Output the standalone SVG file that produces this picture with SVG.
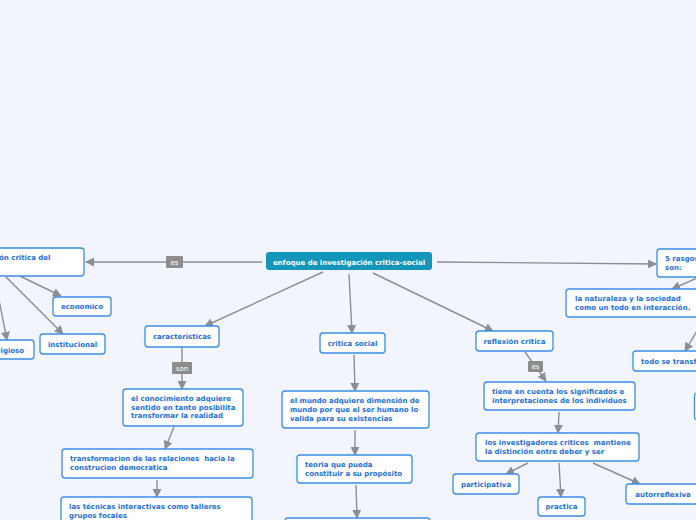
<svg xmlns="http://www.w3.org/2000/svg" width="696" height="520" viewBox="0 0 696 520">
<defs>
<marker id="ah" viewBox="0 0 10 10" refX="9" refY="5" markerWidth="9" markerHeight="9" markerUnits="userSpaceOnUse" orient="auto">
<path d="M0,0 L10,5 L0,10 z" fill="#8a8e96"/>
</marker>
<style>
.n rect{fill:#ffffff;stroke:#3b8de3;stroke-width:1.3}
.n text,.t{font-family:"DejaVu Sans",Verdana,sans-serif;font-weight:bold;font-size:7px;fill:#1e6fd4;white-space:pre}
.c{text-anchor:middle}
.e line,.e path{stroke:#8a8e96;stroke-width:1.4;fill:none}
.lb rect{fill:#8c8c8c}
.lb text{font-family:"DejaVu Sans",Verdana,sans-serif;font-size:7px;fill:#ffffff;text-anchor:middle}
</style>
</defs>
<rect width="696" height="520" fill="#f2f5fd"/>
<g id="connectors" class="e">
<line x1="262" y1="262" x2="86" y2="262" marker-end="url(#ah)"/>
<line x1="20" y1="276" x2="61" y2="296" marker-end="url(#ah)"/>
<line x1="6" y1="277" x2="63" y2="334" marker-end="url(#ah)"/>
<line x1="-3" y1="290" x2="7" y2="340" marker-end="url(#ah)"/>
<line x1="323" y1="272" x2="205" y2="326" marker-end="url(#ah)"/>
<line x1="182" y1="347" x2="182" y2="389" marker-end="url(#ah)"/>
<line x1="174" y1="427" x2="165" y2="449" marker-end="url(#ah)"/>
<line x1="157" y1="480" x2="157" y2="497" marker-end="url(#ah)"/>
<line x1="349" y1="274" x2="352" y2="333" marker-end="url(#ah)"/>
<line x1="354" y1="355" x2="355" y2="391" marker-end="url(#ah)"/>
<line x1="355" y1="430" x2="355" y2="455" marker-end="url(#ah)"/>
<line x1="356" y1="485" x2="357" y2="518" marker-end="url(#ah)"/>
<line x1="373" y1="273" x2="493" y2="331" marker-end="url(#ah)"/>
<line x1="525" y1="352" x2="546" y2="381" marker-end="url(#ah)"/>
<line x1="559" y1="412" x2="558" y2="433" marker-end="url(#ah)"/>
<line x1="528" y1="463" x2="506" y2="474" marker-end="url(#ah)"/>
<line x1="559" y1="463" x2="561" y2="497" marker-end="url(#ah)"/>
<line x1="593" y1="463" x2="640" y2="484" marker-end="url(#ah)"/>
<line x1="437" y1="262" x2="656" y2="264" marker-end="url(#ah)"/>
<line x1="697" y1="278" x2="672" y2="289" marker-end="url(#ah)"/>
<line x1="697" y1="331" x2="685" y2="351" marker-end="url(#ah)"/>
</g>
<g id="labels" class="lb">
<rect x="166" y="256" width="17" height="12" rx="1"/><text x="174.5" y="264.5">es</text>
<rect x="172" y="362" width="20" height="12" rx="1"/><text x="182" y="370.5">son</text>
<rect x="528" y="361" width="15" height="11" rx="1"/><text x="535.5" y="369">es</text>
</g>
<g id="central">
<rect x="266" y="252" width="166" height="18" rx="3" fill="#1396b9"/>
<text x="349" y="264.5" class="t c" style="fill:#ffffff">enfoque de investigación critica-social</text>
</g>
<g id="n-left" class="n"><rect x="-10" y="248" width="94" height="28" rx="3"/><text x="-1" y="259.5">ón critica del</text></g>
<g id="n-economico" class="n"><rect x="53" y="297" width="58" height="19" rx="3"/><text x="82" y="309" class="c">economico</text></g>
<g id="n-institucional" class="n"><rect x="40" y="334" width="65" height="20" rx="3"/><text x="72.5" y="346.5" class="c">institucional</text></g>
<g id="n-religioso" class="n"><rect x="-20" y="340" width="54" height="19" rx="3"/><text x="7" y="352.5" class="c">religioso</text></g>
<g id="n-caracteristicas" class="n"><rect x="145" y="326" width="74" height="21" rx="3"/><text x="182" y="339" class="c">caracteristicas</text></g>
<g id="n-conocimiento" class="n"><rect x="123" y="389" width="120" height="37" rx="3"/>
<text x="131" y="401">el conocimiento adquiere</text><text x="131" y="409.5">sentido en tanto posibilita</text><text x="131" y="418">transformar la realidad</text></g>
<g id="n-transformacion" class="n"><rect x="62" y="449" width="191" height="29" rx="3"/>
<text x="70" y="461" xml:space="preserve">transformacion de las relaciones  hacia la</text><text x="70" y="470">construcion democratica</text></g>
<g id="n-tecnicas" class="n"><rect x="61" y="497" width="191" height="30" rx="3"/>
<text x="69" y="509">las técnicas interactivas como talleres</text><text x="69" y="517.5">grupos focales</text></g>
<g id="n-critica-social" class="n"><rect x="320" y="333" width="65" height="20" rx="3"/><text x="352.5" y="346" class="c">critica social</text></g>
<g id="n-mundo" class="n"><rect x="282" y="391" width="147" height="37" rx="3"/>
<text x="290" y="403">el mundo adquiere dimensión de</text><text x="290" y="412">mundo por que el ser humano lo</text><text x="290" y="420.5">valida para su existencias</text></g>
<g id="n-teoria" class="n"><rect x="297" y="455" width="115" height="28" rx="3"/>
<text x="305" y="467">teoria que pueda</text><text x="305" y="475.5">constituir a su propósito</text></g>
<g id="n-bottom" class="n"><rect x="285" y="518" width="145" height="20" rx="3"/></g>
<g id="n-reflexion" class="n"><rect x="476" y="331" width="77" height="20" rx="3"/><text x="514.5" y="344" class="c">reflexión critica</text></g>
<g id="n-tiene" class="n"><rect x="484" y="382" width="151" height="28" rx="3"/>
<text x="492" y="394">tiene en cuenta los significados e</text><text x="492" y="403">interpretaciones de los individuos</text></g>
<g id="n-investigadores" class="n"><rect x="476" y="433" width="163" height="28" rx="3"/>
<text x="485" y="445" xml:space="preserve">los investigadores criticos  mantiene</text><text x="485" y="454">la distinción entre deber y ser</text></g>
<g id="n-participativa" class="n"><rect x="453" y="474" width="66" height="20" rx="3"/><text x="486" y="487" class="c">participativa</text></g>
<g id="n-practica" class="n"><rect x="538" y="497" width="47" height="19" rx="3"/><text x="561.5" y="509" class="c">practica</text></g>
<g id="n-autorreflexiva" class="n"><rect x="626" y="484" width="74" height="20" rx="3"/><text x="663" y="496.5" class="c">autorreflexiva</text></g>
<g id="n-rasgos" class="n"><rect x="657" y="249" width="50" height="28" rx="3"/>
<text x="665" y="261">5 rasgos</text><text x="665" y="270">son:</text></g>
<g id="n-naturaleza" class="n"><rect x="566" y="289" width="140" height="28" rx="3"/>
<text x="575" y="300.5">la naturaleza y la sociedad</text><text x="575" y="310">como un todo en interacción.</text></g>
<g id="n-todo" class="n"><rect x="633" y="351" width="80" height="20" rx="3"/><text x="641" y="364">todo se transforma</text></g>
<g id="n-right" class="n"><rect x="694.5" y="393" width="20" height="27" rx="3"/></g>
</svg>
